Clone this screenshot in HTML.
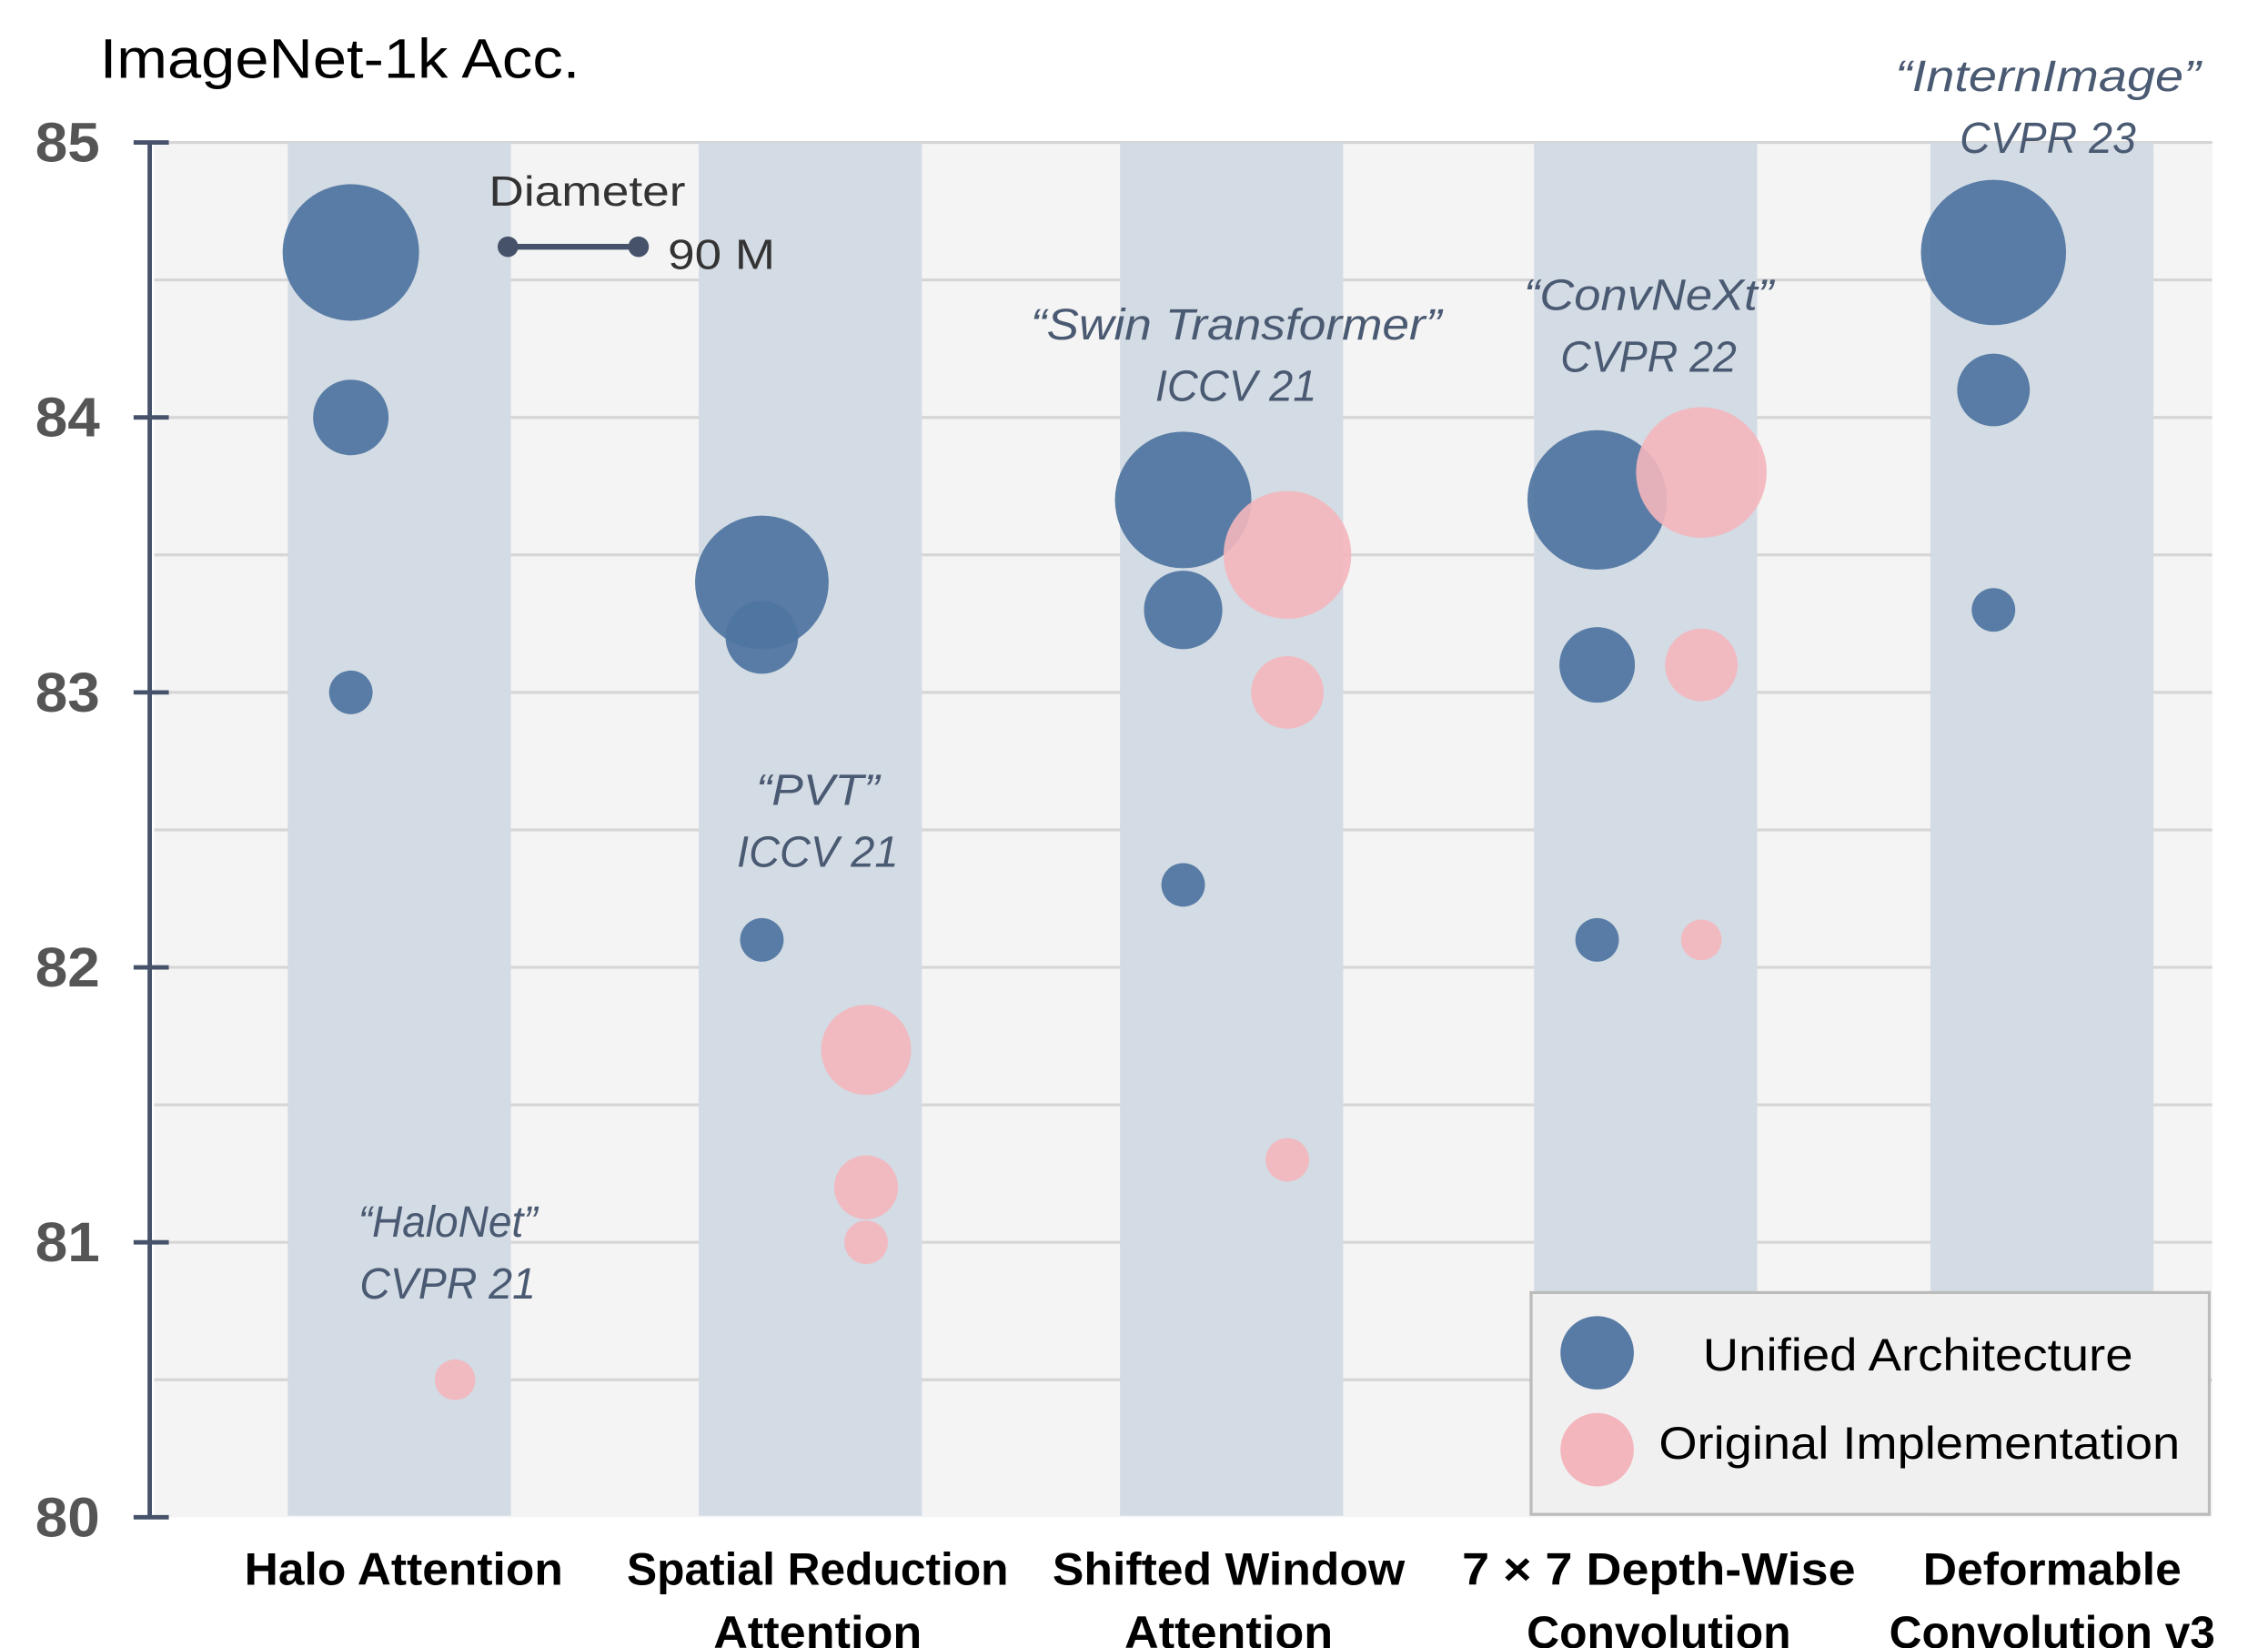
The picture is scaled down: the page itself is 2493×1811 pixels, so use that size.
<!DOCTYPE html>
<html><head><meta charset="utf-8"><style>
html,body{margin:0;padding:0;background:#fff}
svg{display:block}
text{font-family:"Liberation Sans",sans-serif}
</style></head><body>
<svg id="chart" width="2493" height="1811" viewBox="0 0 1545 1122" preserveAspectRatio="none" xmlns="http://www.w3.org/2000/svg">
<rect x="105" y="97" width="1402" height="936" fill="#f4f4f4"/>
<g id="grid"></g>
<g id="bands"></g>
<g id="axis"></g>
<text x="68" y="53" font-size="38" fill="#000" textLength="327" lengthAdjust="spacingAndGlyphs">ImageNet-1k Acc.</text>
<g>
<text x="333" y="140" font-size="29" fill="#333" textLength="134" lengthAdjust="spacingAndGlyphs">Diameter</text>
<line x1="346" y1="168" x2="435" y2="168" stroke="#45526a" stroke-width="4"/>
<circle cx="346" cy="168" r="7" fill="#45526a"/><circle cx="435" cy="168" r="7" fill="#45526a"/>
<text x="455" y="183" font-size="29" fill="#333" textLength="73" lengthAdjust="spacingAndGlyphs">90 M</text>
</g>
<g id="bubbles"></g>
<g id="notes"></g>
<g id="xlabels"></g>
<g>
<rect x="1043" y="880" width="462" height="151" fill="#f0f0f0" stroke="#bbb" stroke-width="2"/>
<circle cx="1088" cy="921" r="25" fill="#4f74a0" opacity="0.95"/>
<text x="1160" y="933" font-size="31" fill="#000" textLength="293" lengthAdjust="spacingAndGlyphs">Unified Architecture</text>
<circle cx="1088" cy="987" r="25" fill="#f4b6bd"/>
<text x="1130" y="993" font-size="31" fill="#000" textLength="355" lengthAdjust="spacingAndGlyphs">Original Implementation</text>
</g>
</svg>
<script>
const categories=["Halo Attention","Spatial Reduction Attention","Shifted Window Attention","7 × 7 Depth-Wise Convolution","Deformable Convolution v3"];
const xLines=[["Halo Attention"],["Spatial Reduction","Attention"],["Shifted Window","Attention"],["7 × 7 Depth-Wise","Convolution"],["Deformable","Convolution v3"]];
const unifiedAcc=[[84.6,84.0,83.0],[83.4,83.2,82.1],[83.7,83.3,82.3],[83.7,83.1,82.1],[84.6,84.1,83.3]];
const unifiedParams=[[94,52,30],[92,50,30],[94,54,30],[96,52,30],[100,50,30]];
const originalAcc=[[80.5],[81.7,81.2,81.0],[83.5,83.0,81.3],[83.8,83.1,82.1],[]];
const originalParams=[[28],[62,44,30],[88,50,30],[90,50,28],[]];
const noteTitles=["“HaloNet”","“PVT”","“Swin Transformer”","“ConvNeXt”","“InternImage”"];
const noteVenues=["CVPR 21","ICCV 21","ICCV 21","CVPR 22","CVPR 23"];
const yTicks=[80,81,82,83,84,85];
const NS="http://www.w3.org/2000/svg";
const Y0=1033,Y1=97,YMIN=80,YMAX=85;
function y(v){return Y0-(v-YMIN)/(YMAX-YMIN)*(Y0-Y1);}
const bandLeft=[196,476,763,1045,1315],BW=152;
function cx(i){return bandLeft[i]+BW/2;}
function pxDiam(p){return p*89/90;}
function mk(tag,attrs,parent){const e=document.createElementNS(NS,tag);for(const k in attrs)e.setAttribute(k,attrs[k]);parent.appendChild(e);return e;}
const grid=document.getElementById('grid');
for(let v=80.5;v<=85;v+=0.5){const l=mk('line',{x1:105,x2:1507,y1:y(v),y2:y(v),stroke:'#d6d6d6','stroke-width':2},grid);

}
const bands=document.getElementById('bands');
categories.forEach((c,i)=>{const r=mk('rect',{x:bandLeft[i],y:97,width:BW,height:935,fill:'#d3dbe4'},bands);

});
const axis=document.getElementById('axis');
mk('line',{x1:102,x2:102,y1:y(85),y2:y(80),stroke:'#45526a','stroke-width':3},axis);
yTicks.forEach(t=>{mk('line',{x1:91,x2:115,y1:y(t),y2:y(t),stroke:'#45526a','stroke-width':3},axis);
const tx=mk('text',{x:68,y:y(t)+13,'text-anchor':'end','font-size':38,'font-weight':'bold',fill:'#555',textLength:44,lengthAdjust:'spacingAndGlyphs'},axis);tx.textContent=t;

});
const bub=document.getElementById('bubbles');
categories.forEach((c,i)=>{
 unifiedAcc[i].forEach((a,j)=>{const e=mk('circle',{cx:cx(i)-33,cy:y(a),r:pxDiam(unifiedParams[i][j])/2,fill:'#4f74a0',opacity:0.93},bub);
 
 });
 originalAcc[i].forEach((a,j)=>{const e=mk('circle',{cx:cx(i)+38,cy:y(a),r:pxDiam(originalParams[i][j])/2,fill:'#f4b6bd',opacity:0.9},bub);
 
 });
});
const notePos=[[305,842],[557,548],[842,231],[1123,211],[1395,62]];
const noteW=[122,84,280,170,208];
const venueW=[120,110,110,120,120];
const notes=document.getElementById('notes');
noteTitles.forEach((t,i)=>{const a=mk('text',{x:notePos[i][0],y:notePos[i][1],'text-anchor':'middle','font-size':30,'font-style':'italic',fill:'#4a5a72',textLength:noteW[i],lengthAdjust:'spacingAndGlyphs'},notes);a.textContent=t;


const b=mk('text',{x:notePos[i][0],y:notePos[i][1]+42,'text-anchor':'middle','font-size':30,'font-style':'italic',fill:'#4a5a72',textLength:venueW[i],lengthAdjust:'spacingAndGlyphs'},notes);b.textContent=noteVenues[i];

});
const xlc=[275,557,837,1130,1398];
const xlW=[[217],[260,142],[240,142],[268,180],[176,222]];
const xl=document.getElementById('xlabels');
xLines.forEach((ls,i)=>ls.forEach((s,k)=>{const t=mk('text',{x:xlc[i],y:1079+k*43,'text-anchor':'middle','font-size':31,'font-weight':'bold',fill:'#000',textLength:xlW[i][k],lengthAdjust:'spacingAndGlyphs'},xl);t.textContent=s;

}));
</script>
</body></html>
